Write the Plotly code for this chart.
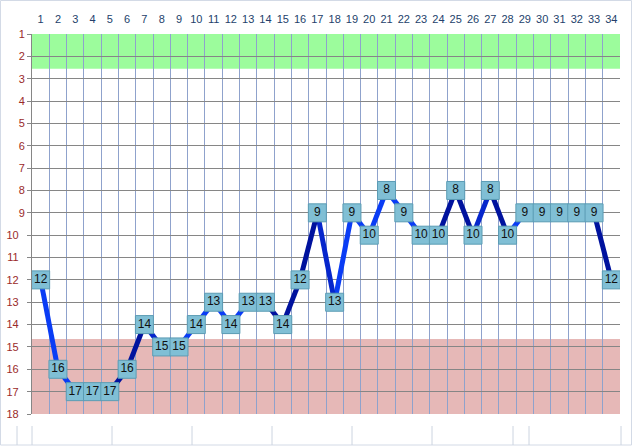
import plotly.graph_objects as go

# League position per matchday
matchdays = list(range(1, 35))
positions = [12, 16, 17, 17, 17, 16, 14, 15, 15, 14, 13, 14, 13, 13, 14, 12, 9,
             13, 9, 10, 8, 9, 10, 10, 8, 10, 8, 10, 9, 9, 9, 9, 9, 12]

# colour class of the segment leaving each matchday (b = bright, m = medium, d = dark)
segment_shade = ['b', 'b', 'b', 'd', 'd', 'd', 'm', 'b', 'b', 'b', 'b', 'b', 'd',
                 'd', 'd', 'd', 'm', 'b', 'b', 'b', 'b', 'b', 'd', 'd', 'd', 'm',
                 'd', 'b', 'b', 'b', 'b', 'd', 'd']

y_ticks = list(range(1, 19))
top_zone = (1, 2.55)       # promotion band
bottom_zone = (14.65, 18)  # relegation band

shade_colors = {'b': '#0a3cf5', 'm': '#0626cc', 'd': '#00129e'}

W, H = 632, 446
ML, MR, MT, MB = 32, 12, 34, 32
PW, PH = W - ML - MR, H - MT - MB


def px_x(px):
    return (px - ML) / PW


def px_y(py):
    return (H - MB - py) / PH


fig = go.Figure()

# line segments, grouped by shade
for shade, col in shade_colors.items():
    xs, ys = [], []
    for i, s in enumerate(segment_shade):
        if s == shade:
            xs += [matchdays[i], matchdays[i + 1], None]
            ys += [positions[i], positions[i + 1], None]
    fig.add_trace(go.Scatter(
        x=xs, y=ys, mode='lines',
        line=dict(color=col, width=5),
        hoverinfo='skip', showlegend=False,
    ))

# boxed labels
fig.add_trace(go.Scatter(
    x=matchdays, y=positions, mode='markers+text',
    text=[str(p) for p in positions],
    textposition='middle center',
    textfont=dict(family='Liberation Sans', size=12, color='#111111'),
    marker=dict(symbol='square', size=18, color='#80bfd5',
                line=dict(color='#5b9cb4', width=1)),
    hovertemplate='Spieltag %{x}: Platz %{y}<extra></extra>',
    showlegend=False,
))

shapes = [
    dict(type='rect', xref='x', yref='y', x0=0.5, x1=34.5,
         y0=top_zone[0], y1=top_zone[1], fillcolor='#9cfc9c',
         line=dict(width=0), layer='below'),
    dict(type='rect', xref='x', yref='y', x0=0.5, x1=34.5,
         y0=bottom_zone[0], y1=bottom_zone[1], fillcolor='#e6b8b7',
         line=dict(width=0), layer='below'),
    # outer chart border
    dict(type='rect', xref='paper', yref='paper',
         x0=px_x(0.5), x1=px_x(631.5), y0=px_y(445), y1=px_y(0.5),
         line=dict(color='#d3dae6', width=1), layer='below'),
]
# spreadsheet cell borders showing under the chart
for px in [17, 32, 112, 192, 272, 352, 432, 513, 529, 621]:
    shapes.append(dict(type='line', xref='paper', yref='paper',
                       x0=px_x(px), x1=px_x(px), y0=px_y(426), y1=px_y(445),
                       line=dict(color='#ccd4e0', width=1)))

fig.update_layout(
    width=W, height=H,
    margin=dict(l=ML, r=MR, t=MT, b=MB),
    paper_bgcolor='white', plot_bgcolor='white',
    font=dict(family='Liberation Sans', size=11),
    shapes=shapes,
    xaxis=dict(
        side='top', range=[0.5, 34.5], automargin=False,
        tickmode='array', tickvals=matchdays,
        ticktext=[str(m) for m in matchdays],
        tickfont=dict(color='#243f6b', size=11),
        ticks='', ticklabelstandoff=8,
        showgrid=False, zeroline=False,
        showline=False,
        minor=dict(tick0=0.5, dtick=1, showgrid=True,
                   gridcolor='#8fa2cc', gridwidth=1),
    ),
    yaxis=dict(
        range=[18, 1], autorange=False, automargin=False,
        tickmode='array', tickvals=y_ticks,
        ticktext=[str(v) if v < 10 else str(v) + '\u00a0\u00a0' for v in y_ticks],
        tickfont=dict(color='#9a2a2a', size=11),
        ticks='outside', ticklen=4, tickcolor='#868686',
        showgrid=True, gridcolor='#868686', gridwidth=1,
        showline=True, linecolor='#868686', linewidth=1,
        zeroline=False,
    ),
)

fig.write_html("out.html", config={'displayModeBar': False},
               post_script="document.body.style.margin='0';")
